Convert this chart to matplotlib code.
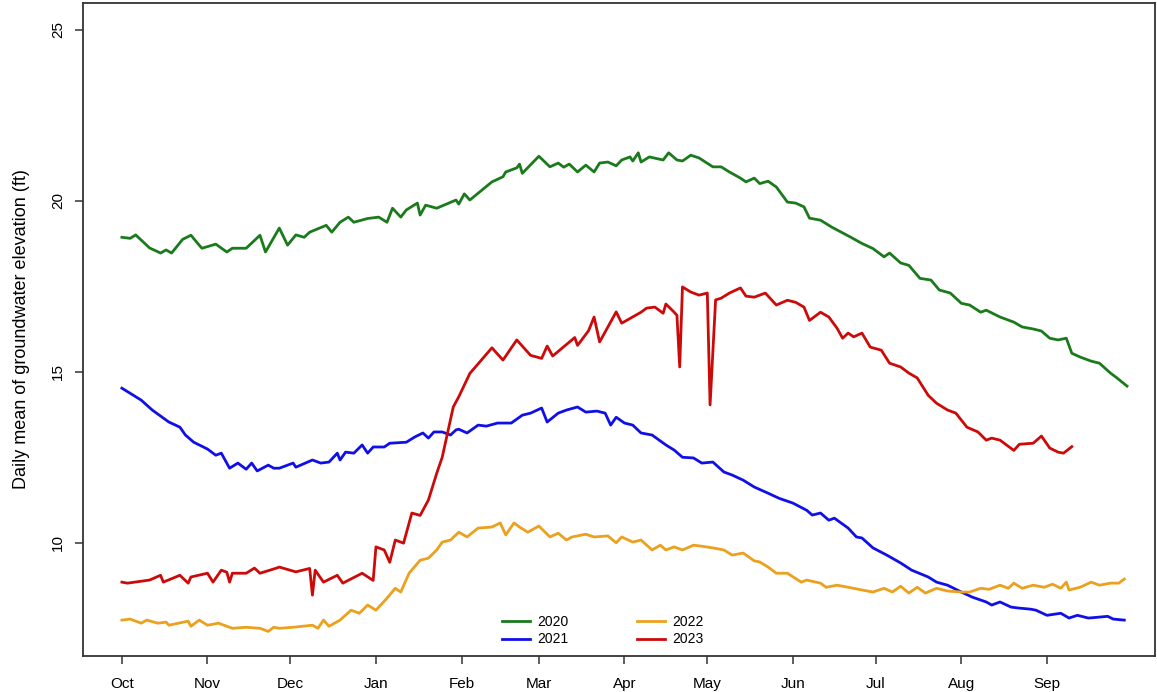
import numpy as np
import matplotlib
matplotlib.use('Agg')
import matplotlib.pyplot as plt

plt.rcParams['font.family'] = ['Liberation Sans', 'DejaVu Sans']

# Water year axis: days since 1 Oct
month_days = [0, 31, 61, 92, 123, 151, 182, 212, 243, 273, 304, 335]
month_labels = ['Oct', 'Nov', 'Dec', 'Jan', 'Feb', 'Mar', 'Apr', 'May',
                'Jun', 'Jul', 'Aug', 'Sep']

# 2020 water year
days_2020 = [0, 3, 5, 10, 14, 16, 18, 22, 25, 28, 29, 34, 38, 40, 45, 50, 52, 57,
             60, 63, 66, 68, 74, 76, 79, 82, 84, 89, 93, 96, 98, 101, 103, 107,
             108, 110, 114, 121, 122, 124, 126, 134, 138, 139, 143, 144, 145,
             151, 155, 158, 160, 162, 165, 168, 171, 173, 176, 179, 181, 184,
             185, 187, 188, 191, 196, 198, 201, 203, 206, 209, 214, 217, 220,
             224, 226, 229, 231, 234, 237, 241, 244, 247, 249, 253, 257, 264,
             268, 272, 276, 278, 282, 285, 289, 293, 296, 300, 304, 307, 311,
             313, 318, 323, 326, 330, 333, 336, 339, 342, 344, 347, 351, 354,
             358, 360, 364]
elev_2020 = [18.93, 18.9, 19.0, 18.62, 18.47, 18.56, 18.47, 18.87, 18.99, 18.7,
             18.61, 18.73, 18.5, 18.61, 18.61, 18.99, 18.5, 19.2, 18.7, 19.0,
             18.93, 19.08, 19.28, 19.08, 19.37, 19.52, 19.37, 19.48, 19.52,
             19.37, 19.78, 19.52, 19.73, 19.93, 19.58, 19.87, 19.78, 20.02,
             19.9, 20.2, 20.02, 20.55, 20.7, 20.84, 20.96, 21.07, 20.8, 21.3,
             20.99, 21.1, 20.98, 21.07, 20.84, 21.04, 20.84, 21.1, 21.13, 21.02,
             21.19, 21.28, 21.16, 21.4, 21.13, 21.28, 21.19, 21.4, 21.19, 21.16,
             21.33, 21.25, 20.99, 20.99, 20.84, 20.66, 20.55, 20.66, 20.5,
             20.57, 20.4, 19.96, 19.93, 19.82, 19.49, 19.43, 19.23, 18.93,
             18.75, 18.6, 18.36, 18.47, 18.18, 18.11, 17.73, 17.68, 17.39, 17.3,
             17.0, 16.95, 16.74, 16.8, 16.6, 16.45, 16.31, 16.25, 16.19, 15.98,
             15.93, 15.98, 15.54, 15.43, 15.31, 15.25, 14.96, 14.84, 14.58]

# 2021 water year
days_2021 = [0, 7, 11, 17, 21, 23, 26, 31, 34, 36, 39, 42, 45, 47, 49, 53, 55,
             57, 62, 63, 69, 72, 75, 78, 79, 81, 84, 87, 89, 91, 95, 97, 103,
             106, 109, 111, 113, 116, 119, 121, 122, 125, 129, 132, 136, 141,
             145, 148, 152, 154, 158, 161, 165, 168, 172, 175, 177, 179, 182,
             185, 188, 192, 197, 200, 203, 207, 210, 214, 218, 221, 225, 229,
             234, 238, 243, 248, 250, 253, 256, 258, 263, 266, 268, 272, 277,
             282, 286, 292, 295, 299, 304, 308, 313, 315, 318, 322, 325, 329,
             331, 335, 340, 343, 346, 350, 353, 357, 359, 363]
elev_2021 = [14.52, 14.17, 13.88, 13.53, 13.38, 13.15, 12.94, 12.74, 12.56,
             12.62, 12.18, 12.33, 12.15, 12.33, 12.1, 12.27, 12.18, 12.18, 12.33,
             12.21, 12.42, 12.33, 12.36, 12.62, 12.42, 12.65, 12.62, 12.86,
             12.62, 12.8, 12.8, 12.91, 12.94, 13.09, 13.21, 13.06, 13.24, 13.24,
             13.15, 13.3, 13.32, 13.21, 13.44, 13.41, 13.5, 13.5, 13.73, 13.79,
             13.94, 13.53, 13.79, 13.88, 13.97, 13.82, 13.85, 13.79, 13.44,
             13.67, 13.5, 13.44, 13.21, 13.15, 12.86, 12.71, 12.5, 12.48, 12.33,
             12.36, 12.07, 11.98, 11.83, 11.63, 11.45, 11.3, 11.16, 10.95, 10.81,
             10.87, 10.66, 10.72, 10.43, 10.17, 10.14, 9.85, 9.64, 9.41, 9.2,
             9.0, 8.85, 8.76, 8.56, 8.41, 8.27, 8.18, 8.27, 8.12, 8.09, 8.06,
             8.03, 7.88, 7.94, 7.8, 7.88, 7.8, 7.82, 7.85, 7.77, 7.74]

# 2022 water year
days_2022 = [0, 3, 7, 9, 13, 16, 17, 24, 25, 28, 31, 35, 38, 40, 45, 50, 53, 55,
             57, 62, 69, 71, 73, 75, 79, 83, 86, 89, 92, 96, 99, 101, 104, 108,
             111, 114, 116, 119, 122, 125, 129, 134, 137, 139, 142, 144, 147,
             151, 155, 158, 161, 163, 168, 171, 176, 179, 181, 185, 188, 192,
             195, 197, 200, 203, 207, 210, 214, 218, 221, 225, 229, 231, 234,
             237, 241, 246, 248, 253, 255, 259, 263, 268, 272, 276, 279, 282,
             285, 288, 291, 295, 299, 304, 307, 311, 314, 318, 321, 323, 326,
             330, 334, 337, 340, 342, 343, 347, 351, 354, 358, 361, 363]
elev_2022 = [7.74, 7.77, 7.65, 7.74, 7.65, 7.68, 7.59, 7.71, 7.56, 7.74, 7.59,
             7.65, 7.56, 7.5, 7.53, 7.5, 7.41, 7.53, 7.5, 7.53, 7.59, 7.5, 7.74,
             7.56, 7.74, 8.03, 7.94, 8.18, 8.03, 8.38, 8.67, 8.56, 9.11, 9.49,
             9.55, 9.79, 10.02, 10.08, 10.31, 10.17, 10.43, 10.46, 10.58, 10.23,
             10.58, 10.46, 10.31, 10.49, 10.17, 10.28, 10.08, 10.17, 10.25,
             10.17, 10.2, 10.0, 10.17, 10.02, 10.08, 9.79, 9.93, 9.79, 9.88,
             9.79, 9.93, 9.9, 9.85, 9.79, 9.64, 9.7, 9.47, 9.44, 9.29, 9.11,
             9.11, 8.85, 8.91, 8.82, 8.7, 8.76, 8.7, 8.62, 8.56, 8.67, 8.56,
             8.73, 8.53, 8.7, 8.53, 8.67, 8.59, 8.56, 8.56, 8.67, 8.64, 8.76,
             8.67, 8.82, 8.67, 8.76, 8.7, 8.79, 8.67, 8.85, 8.62, 8.7, 8.85,
             8.76, 8.82, 8.82, 8.94]

# 2023 water year (record stops mid September)
days_2023 = [0, 2, 10, 14, 15, 21, 24, 25, 31, 33, 36, 38, 39, 40, 45, 48, 50,
             56, 57, 63, 68, 69, 70, 73, 78, 80, 87, 91, 92, 95, 97, 99, 102,
             105, 108, 111, 114, 116, 120, 122, 126, 134, 138, 143, 148, 152,
             154, 156, 164, 165, 169, 171, 173, 179, 181, 188, 190, 193, 196,
             197, 200, 201, 202, 203, 206, 209, 212, 213, 215, 217, 220, 224,
             226, 229, 233, 237, 241, 244, 247, 249, 253, 256, 259, 261, 263,
             265, 268, 271, 275, 278, 282, 285, 288, 292, 295, 299, 302, 306,
             310, 313, 315, 318, 323, 325, 330, 333, 336, 339, 341, 344]
elev_2023 = [8.85, 8.82, 8.91, 9.05, 8.85, 9.05, 8.82, 9.0, 9.11, 8.85, 9.2,
             9.14, 8.85, 9.11, 9.11, 9.26, 9.11, 9.26, 9.29, 9.15, 9.25, 8.47,
             9.2, 8.85, 9.05, 8.82, 9.11, 8.9, 9.88, 9.79, 9.43, 10.08, 9.99,
             10.87, 10.8, 11.25, 12.03, 12.5, 13.97, 14.27, 14.95, 15.7, 15.34,
             15.93, 15.48, 15.39, 15.75, 15.46, 16.0, 15.77, 16.2, 16.6, 15.87,
             16.75, 16.42, 16.74, 16.86, 16.89, 16.71, 16.98, 16.74, 16.65,
             15.14, 17.48, 17.33, 17.24, 17.3, 14.03, 17.1, 17.15, 17.3, 17.45,
             17.21, 17.18, 17.3, 16.95, 17.09, 17.03, 16.89, 16.5, 16.74, 16.6,
             16.27, 15.98, 16.13, 16.02, 16.13, 15.72, 15.63, 15.25, 15.14,
             14.96, 14.82, 14.31, 14.08, 13.88, 13.79, 13.38, 13.24, 13.0, 13.06,
             13.0, 12.7, 12.88, 12.91, 13.12, 12.77, 12.65, 12.62, 12.81]

y_ticks = [10, 15, 20, 25]

fig = plt.figure(figsize=(11.57, 6.92), dpi=100)
ax = fig.add_axes([0.0717, 0.052, 0.9270, 0.9437])

ax.plot(days_2020, elev_2020, color='#1b7a1b', linewidth=2, label='2020')
ax.plot(days_2021, elev_2021, color='#1010e6', linewidth=2, label='2021')
ax.plot(days_2022, elev_2022, color='#eba11d', linewidth=2, label='2022')
ax.plot(days_2023, elev_2023, color='#cc0a0a', linewidth=2, label='2023')

ax.set_xlim(-14.1, 374.3)
ax.set_ylim(6.69, 25.78)

ax.set_xticks(month_days)
ax.set_xticklabels(month_labels, fontsize=11)
ax.set_yticks(y_ticks)
ax.set_yticklabels([str(v) for v in y_ticks], fontsize=11, rotation=90,
                   va='center')
ax.tick_params(axis='both', direction='out', length=6, width=1.1,
               color='#333333')
ax.tick_params(axis='x', pad=9)
ax.tick_params(axis='y', pad=7)

for side in ax.spines.values():
    side.set_linewidth(1.3)
    side.set_color('#333333')

ax.set_ylabel('Daily mean of groundwater elevation (ft)', fontsize=13,
              labelpad=15)

ax.legend(loc='center', bbox_to_anchor=(0.521, 0.0885),
          bbox_transform=fig.transFigure, ncol=2, frameon=False,
          fontsize=10, handlelength=2.0, handletextpad=0.5,
          columnspacing=5.0, labelspacing=0.25)

fig.savefig('out.png', dpi=100)
